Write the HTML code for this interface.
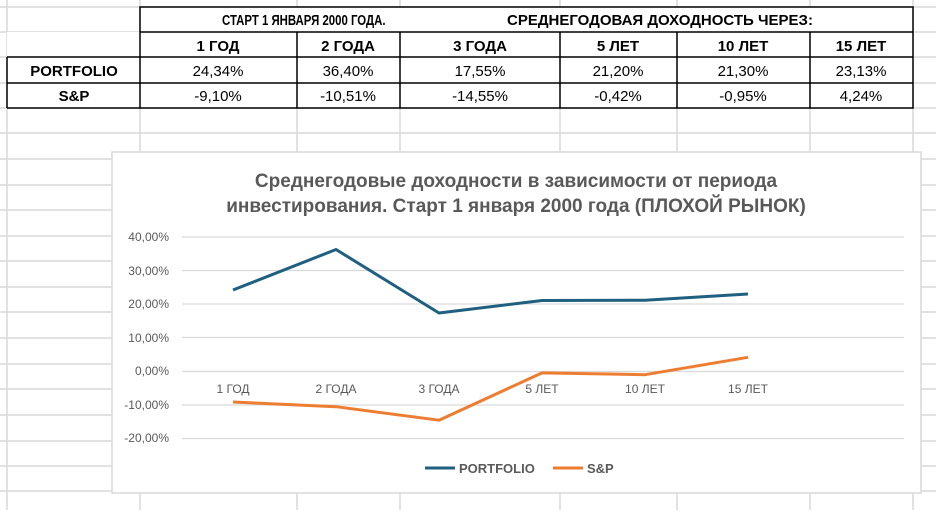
<!DOCTYPE html>
<html><head><meta charset="utf-8"><style>
body{margin:0;width:936px;height:510px;overflow:hidden;background:#fff;font-family:"Liberation Sans",sans-serif;}
</style></head><body>
<svg width="936" height="510" xmlns="http://www.w3.org/2000/svg" font-family="Liberation Sans, sans-serif">
<g stroke="#d9d9d9" stroke-width="1.5">
<line x1="7" y1="0" x2="7" y2="510"/><line x1="140" y1="0" x2="140" y2="510"/>
<line x1="297" y1="0" x2="297" y2="510"/><line x1="400" y1="0" x2="400" y2="510"/>
<line x1="560" y1="0" x2="560" y2="510"/><line x1="677" y1="0" x2="677" y2="510"/>
<line x1="810" y1="0" x2="810" y2="510"/><line x1="913" y1="0" x2="913" y2="510"/>
<line x1="0" y1="7" x2="936" y2="7"/><line x1="0" y1="32" x2="936" y2="32"/>
<line x1="0" y1="57" x2="936" y2="57"/><line x1="0" y1="83" x2="936" y2="83"/>
<line x1="0" y1="108" x2="936" y2="108"/><line x1="0" y1="133" x2="936" y2="133"/>
<line x1="0" y1="159" x2="936" y2="159"/><line x1="0" y1="185" x2="936" y2="185"/>
<line x1="0" y1="210" x2="936" y2="210"/><line x1="0" y1="236" x2="936" y2="236"/>
<line x1="0" y1="261" x2="936" y2="261"/><line x1="0" y1="287" x2="936" y2="287"/>
<line x1="0" y1="312" x2="936" y2="312"/><line x1="0" y1="338" x2="936" y2="338"/>
<line x1="0" y1="364" x2="936" y2="364"/><line x1="0" y1="389" x2="936" y2="389"/>
<line x1="0" y1="415" x2="936" y2="415"/><line x1="0" y1="441" x2="936" y2="441"/>
<line x1="0" y1="466" x2="936" y2="466"/><line x1="0" y1="491" x2="936" y2="491"/>
</g>
<rect x="7" y="32" width="906" height="76" fill="#fff"/>
<rect x="140" y="7" width="773" height="25" fill="#fff"/>
<g stroke="#000" stroke-width="1.5" fill="none">
<rect x="140" y="7" width="773" height="101"/>
<line x1="7" y1="57" x2="913" y2="57"/><line x1="7" y1="83" x2="913" y2="83"/>
<line x1="140" y1="32" x2="913" y2="32"/><line x1="7" y1="57" x2="7" y2="108"/><line x1="7" y1="108" x2="140" y2="108"/>
<line x1="297" y1="32" x2="297" y2="108"/><line x1="400" y1="32" x2="400" y2="108"/>
<line x1="560" y1="32" x2="560" y2="108"/><line x1="677" y1="32" x2="677" y2="108"/>
<line x1="810" y1="32" x2="810" y2="108"/>
</g>
<g font-size="15" text-anchor="middle" fill="#000">
<text transform="translate(222,25) scale(0.76,1)" text-anchor="start" font-weight="bold">СТАРТ 1 ЯНВАРЯ 2000 ГОДА.</text>
<text x="507" y="25" text-anchor="start" font-weight="bold">СРЕДНЕГОДОВАЯ ДОХОДНОСТЬ ЧЕРЕЗ:</text>
<g font-weight="bold"><text x="218" y="51">1 ГОД</text><text x="348" y="51">2 ГОДА</text><text x="480" y="51">3 ГОДА</text><text x="618" y="51">5 ЛЕТ</text><text x="743" y="51">10 ЛЕТ</text><text x="861" y="51">15 ЛЕТ</text>
<text x="74" y="76">PORTFOLIO</text><text x="74" y="101">S&amp;P</text></g>
<text x="218" y="76">24,34%</text><text x="348" y="76">36,40%</text><text x="480" y="76">17,55%</text><text x="618" y="76">21,20%</text><text x="743" y="76">21,30%</text><text x="861" y="76">23,13%</text>
<text x="218" y="101">-9,10%</text><text x="348" y="101">-10,51%</text><text x="480" y="101">-14,55%</text><text x="618" y="101">-0,42%</text><text x="743" y="101">-0,95%</text><text x="861" y="101">4,24%</text>
</g>
<rect x="112" y="152" width="809" height="341" fill="#fff" stroke="#d9d9d9" stroke-width="1.5"/>
<g fill="#595959" font-weight="bold" font-size="19" text-anchor="middle">
<text x="516" y="187">Среднегодовые доходности в зависимости от периода</text>
<text x="516" y="212">инвестирования. Старт 1 января 2000 года (ПЛОХОЙ РЫНОК)</text>
</g>
<g stroke="#d9d9d9" stroke-width="1.2">
<line x1="182" y1="237" x2="904" y2="237"/><line x1="182" y1="270.5" x2="904" y2="270.5"/>
<line x1="182" y1="304" x2="904" y2="304"/><line x1="182" y1="337.5" x2="904" y2="337.5"/>
<line x1="182" y1="371.5" x2="904" y2="371.5"/><line x1="182" y1="405" x2="904" y2="405"/>
<line x1="182" y1="438.5" x2="904" y2="438.5"/>
</g>
<g fill="#595959" font-size="12" text-anchor="end">
<text x="169" y="241">40,00%</text><text x="169" y="275">30,00%</text><text x="169" y="308">20,00%</text><text x="169" y="342">10,00%</text><text x="169" y="375">0,00%</text><text x="169" y="409">-10,00%</text><text x="169" y="442">-20,00%</text>
</g>
<g fill="#595959" font-size="12" text-anchor="middle">
<text x="233" y="393">1 ГОД</text><text x="336" y="393">2 ГОДА</text><text x="439" y="393">3 ГОДА</text><text x="542" y="393">5 ЛЕТ</text><text x="645" y="393">10 ЛЕТ</text><text x="748" y="393">15 ЛЕТ</text>
</g>
<polyline fill="none" stroke="#1f5f7f" stroke-width="3" stroke-linejoin="round" points="233,290 336,249.5 439,313 542,300.5 645,300.2 748,294"/>
<polyline fill="none" stroke="#ed7d31" stroke-width="3" stroke-linejoin="round" points="233,402 336,406.7 439,420.2 542,372.9 645,374.7 748,357.3"/>
<line x1="425" y1="468" x2="455" y2="468" stroke="#1f5f7f" stroke-width="3"/>
<text x="459" y="473" font-size="13" font-weight="bold" fill="#595959">PORTFOLIO</text>
<line x1="553" y1="468" x2="583" y2="468" stroke="#ed7d31" stroke-width="3"/>
<text x="587" y="473" font-size="13" font-weight="bold" fill="#595959">S&amp;P</text>
</svg>
</body></html>
